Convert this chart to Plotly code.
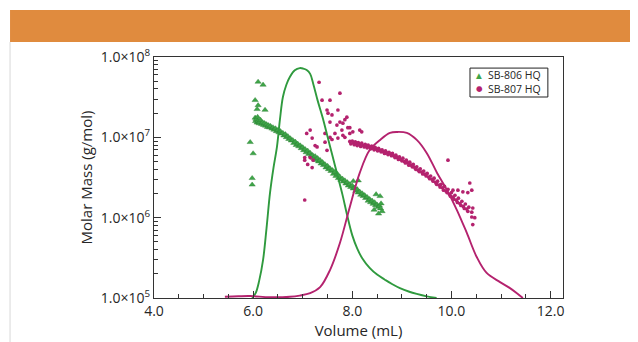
import plotly.graph_objects as go

# ---------------- data ----------------
# SB-806 HQ light-scattering molar mass points (volume mL, molar mass g/mol)
sb806_vol = [6.04, 6.05, 6.06, 6.08, 6.09, 6.10, 6.12, 6.13, 6.15, 6.17, 6.19, 6.21, 6.23, 6.25, 6.27,
             6.29, 6.31, 6.33, 6.35, 6.38, 6.40, 6.42, 6.45, 6.47, 6.50, 6.52, 6.55, 6.57, 6.60, 6.62,
             6.65, 6.67, 6.70, 6.72, 6.75, 6.77, 6.80, 6.82, 6.85, 6.87, 6.90, 6.92, 6.95, 6.97, 7.00,
             7.02, 7.05, 7.07, 7.10, 7.12, 7.15, 7.17, 7.20, 7.22, 7.25, 7.27, 7.30, 7.32, 7.35, 7.37,
             7.40, 7.42, 7.45, 7.47, 7.50, 7.52, 7.55, 7.57, 7.60, 7.62, 7.65, 7.67, 7.70, 7.72, 7.75,
             7.77, 7.80, 7.82, 7.85, 7.87, 7.90, 7.92, 7.95, 7.97, 8.00, 8.02, 8.05, 8.07, 8.10, 8.12,
             8.15, 8.17, 8.20, 8.22, 8.25, 8.27, 8.30, 8.32, 8.35, 8.37, 8.40, 8.42, 8.45, 8.47, 8.50,
             8.52, 8.55, 8.57,
             8.48, 8.56, 8.58, 8.60, 8.44, 8.53, 8.12, 8.02,
             6.10, 6.20, 6.04, 6.10, 6.08, 6.24, 5.94, 6.00, 5.98, 5.98]
sb806_mass = [17.5e6, 15.9e6, 16.8e6, 15.2e6, 17.9e6, 16.0e6, 14.9e6, 15.6e6, 16.4e6, 14.6e6, 15.3e6, 14.2e6,
              15.0e6, 13.9e6, 14.5e6, 13.4e6, 14.1e6, 13.2e6, 13.8e6, 12.8e6, 13.3e6, 12.4e6, 12.9e6, 11.9e6,
              12.3e6, 11.5e6, 11.9e6, 11.1e6, 11.3e6, 10.5e6, 10.9e6, 10.0e6, 10.3e6, 9.5e6, 9.7e6, 9.1e6,
              9.2e6, 8.5e6, 8.8e6, 8.0e6, 8.3e6, 7.7e6, 7.9e6, 7.3e6, 7.5e6, 6.9e6, 7.1e6, 6.5e6, 6.8e6,
              6.2e6, 6.4e6, 5.9e6, 6.0e6, 5.5e6, 5.8e6, 5.2e6, 5.5e6, 5.0e6, 5.2e6, 4.7e6, 4.9e6, 4.5e6,
              4.6e6, 4.2e6, 4.4e6, 4.0e6, 4.1e6, 3.8e6, 3.9e6, 3.5e6, 3.7e6, 3.3e6, 3.5e6, 3.1e6, 3.2e6,
              2.95e6, 3.05e6, 2.8e6, 2.9e6, 2.65e6, 2.75e6, 2.5e6, 2.6e6, 2.4e6, 2.5e6, 2.3e6, 2.35e6,
              2.15e6, 2.25e6, 2.05e6, 2.1e6, 1.92e6, 2.0e6, 1.85e6, 1.9e6, 1.75e6, 1.8e6, 1.62e6, 1.7e6,
              1.55e6, 1.62e6, 1.48e6, 1.55e6, 1.42e6, 1.45e6, 1.35e6, 1.40e6, 1.30e6,
              1.95e6, 1.85e6, 1.5e6, 1.2e6, 1.25e6, 1.12e6, 2.9e6, 2.85e6,
              49e6, 45e6, 29e6, 25e6, 22.4e6, 21.9e6, 8.7e6, 6.3e6, 3.1e6, 2.57e6]

# SB-807 HQ light-scattering molar mass points
sb807_vol = [7.95, 7.97, 8.00, 8.02, 8.04, 8.06, 8.08, 8.10, 8.12, 8.14, 8.17, 8.19, 8.21, 8.24, 8.26,
             8.28, 8.30, 8.32, 8.35, 8.37, 8.39, 8.42, 8.44, 8.46, 8.49, 8.51, 8.53, 8.56, 8.58, 8.60,
             8.63, 8.65, 8.67, 8.70, 8.72, 8.74, 8.77, 8.79, 8.81, 8.84, 8.86, 8.88, 8.91, 8.93, 8.95,
             8.98, 9.00, 9.02, 9.05, 9.07, 9.09, 9.12, 9.14, 9.16, 9.19, 9.21, 9.23, 9.26, 9.28, 9.30,
             9.33, 9.35, 9.37, 9.40, 9.42, 9.44, 9.47, 9.49, 9.51, 9.54, 9.56, 9.58, 9.61, 9.63, 9.65,
             9.68, 9.70, 9.72, 9.75, 9.77, 9.79, 9.82, 9.84, 9.86, 9.89, 9.91, 9.93, 9.96, 9.98, 10.00,
             10.03, 10.05, 10.07, 10.10, 10.12, 10.14, 10.17, 10.19, 10.21, 10.24, 10.26, 10.28, 10.31,
             10.33, 10.35,
             10.37, 10.41, 10.23, 10.33, 10.13, 10.03, 10.43, 10.41, 10.47, 10.43, 10.41, 9.93,
             7.33, 7.75, 7.39, 7.55, 7.51, 7.59, 7.55, 7.75, 7.81, 7.85, 7.69, 7.65, 7.79, 7.91, 7.95,
             8.15, 7.59, 7.71, 7.85, 7.89, 7.49, 7.15, 7.08, 7.19, 7.45, 7.55, 7.45, 7.29, 7.49, 7.04,
             7.21, 7.10, 7.19, 7.25, 7.15, 7.04, 7.04, 7.81, 8.19, 8.01, 7.95, 7.71]
sb807_mass = [8.9e6, 8.3e6, 9.0e6, 8.5e6, 8.1e6, 8.8e6, 8.4e6, 7.9e6, 8.6e6, 8.2e6, 7.7e6, 8.5e6, 8.0e6,
              7.6e6, 8.2e6, 7.8e6, 7.4e6, 8.0e6, 7.6e6, 7.2e6, 7.8e6, 7.3e6, 7.0e6, 7.5e6, 7.1e6, 6.8e6,
              7.3e6, 6.9e6, 6.6e6, 7.0e6, 6.6e6, 6.3e6, 6.8e6, 6.4e6, 6.1e6, 6.5e6, 6.2e6, 5.9e6, 6.3e6,
              5.9e6, 5.6e6, 6.0e6, 5.6e6, 5.3e6, 5.7e6, 5.3e6, 5.1e6, 5.5e6, 5.0e6, 4.8e6, 5.2e6, 4.8e6,
              4.5e6, 4.9e6, 4.5e6, 4.3e6, 4.6e6, 4.2e6, 4.0e6, 4.3e6, 3.9e6, 3.75e6, 4.05e6, 3.7e6, 3.5e6,
              3.8e6, 3.45e6, 3.3e6, 3.55e6, 3.2e6, 3.05e6, 3.3e6, 3.0e6, 2.85e6, 3.1e6, 2.75e6, 2.6e6,
              2.85e6, 2.55e6, 2.4e6, 2.6e6, 2.35e6, 2.2e6, 2.45e6, 2.15e6, 2.05e6, 2.25e6, 1.95e6, 1.85e6,
              2.05e6, 1.8e6, 1.7e6, 1.9e6, 1.65e6, 1.55e6, 1.75e6, 1.5e6, 1.42e6, 1.6e6, 1.38e6, 1.3e6,
              1.48e6, 1.28e6, 1.2e6, 1.35e6,
              2.7e6, 2.2e6, 2.1e6, 2.05e6, 2.2e6, 2.2e6, 1.32e6, 1.02e6, 1.0e6, 0.82e6, 1.17e6, 5.2e6,
              48.5e6, 35.5e6, 29e6, 29e6, 20e6, 19e6, 15.5e6, 15.5e6, 15e6, 16.6e6, 14.2e6, 11.2e6,
              12.3e6, 13.2e6, 11.2e6, 12.3e6, 9.4e6, 9.8e6, 10e6, 17.8e6, 21.9e6, 12.3e6, 11.2e6, 9.8e6,
              11.2e6, 10e6, 8.7e6, 7.6e6, 6.9e6, 5.6e6, 5.2e6, 4.6e6, 4.2e6, 7.9e6, 5.6e6, 5.2e6, 1.66e6,
              10.6e6, 11.7e6, 11.7e6, 13.2e6, 21.9e6]

# concentration-detector traces (relative response, 0..1 of plot height)
rid806_vol = [5.98, 6.05, 6.12, 6.20, 6.27, 6.34, 6.41, 6.48, 6.54, 6.60, 6.67, 6.74, 6.84, 6.94, 7.01,
              7.08, 7.15, 7.21, 7.30, 7.40, 7.50, 7.60, 7.70, 7.80, 7.90, 8.00, 8.10, 8.20, 8.35, 8.50,
              8.65, 8.80, 8.96, 9.15, 9.30, 9.50, 9.70]
rid806_resp = [0.0, 0.02, 0.07, 0.158, 0.29, 0.436, 0.54, 0.627, 0.74, 0.834, 0.885, 0.917, 0.945, 0.954,
               0.952, 0.946, 0.93, 0.89, 0.82, 0.75, 0.67, 0.59, 0.51, 0.43, 0.34, 0.26, 0.205, 0.165,
               0.125, 0.097, 0.077, 0.058, 0.041, 0.026, 0.017, 0.007, 0.0]
rid807_vol = [5.43, 5.70, 5.94, 6.34, 6.74, 6.94, 7.15, 7.35, 7.55, 7.75, 7.95, 8.15, 8.35, 8.56, 8.76,
              8.90, 9.10, 9.30, 9.50, 9.71, 9.91, 10.11, 10.31, 10.51, 10.71, 10.98, 11.18, 11.32, 11.44]
rid807_resp = [0.005, 0.007, 0.008, 0.003, 0.005, 0.01, 0.02, 0.045, 0.116, 0.228, 0.378, 0.519, 0.614,
               0.656, 0.685, 0.689, 0.685, 0.656, 0.602, 0.519, 0.448, 0.365, 0.27, 0.17, 0.104, 0.066,
               0.041, 0.02, 0.0]

series_names = ["SB-806 HQ", "SB-807 HQ"]

y_tickvals = [1e5, 1e6, 1e7, 1e8]
y_ticktext = ["1.0×10<sup>5</sup>", "1.0×10<sup>6</sup>", "1.0×10<sup>7</sup>", "1.0×10<sup>8</sup>"]
x_tickvals = [4.0, 6.0, 8.0, 10.0, 12.0]
x_ticktext = ["4.0", "6.0", "8.0", "10.0", "12.0"]

GREEN = "#2f9a3e"
GREEN_M = "#3ea548"
MAGENTA = "#b4226e"
FONT = "Open Sans"
INK = "#262626"

fig = go.Figure()

fig.add_trace(go.Scatter(x=rid806_vol, y=rid806_resp, yaxis="y2", mode="lines",
                         line=dict(color=GREEN, width=1.9, shape="spline"), showlegend=False,
                         hoverinfo="skip"))
fig.add_trace(go.Scatter(x=rid807_vol, y=rid807_resp, yaxis="y2", mode="lines",
                         line=dict(color=MAGENTA, width=1.9, shape="spline"), showlegend=False,
                         hoverinfo="skip"))
fig.add_trace(go.Scatter(x=sb806_vol, y=sb806_mass, mode="markers", name=series_names[0],
                         showlegend=False,
                         marker=dict(symbol="triangle-up", size=5.5, color=GREEN_M,
                                     line=dict(width=0.4, color="#2a7d33"))))
fig.add_trace(go.Scatter(x=sb807_vol, y=sb807_mass, mode="markers", name=series_names[1],
                         showlegend=False,
                         marker=dict(symbol="circle", size=3.7, color=MAGENTA,
                                     line=dict(width=0))))

minor_y = [m * 10 ** e for e in range(5, 8) for m in range(2, 10)]

# legend box (drawn manually to match the compact original)
LX0, LX1, LY0, LY1 = 0.7726, 0.963, 0.834, 0.954
legend_annotations = [
    dict(xref="paper", yref="paper", x=0.795, y=0.925, text="▲", showarrow=False,
         font=dict(size=7.5, color=GREEN_M, family="DejaVu Sans"), xanchor="center", yanchor="middle"),
    dict(xref="paper", yref="paper", x=0.8146, y=0.925, text=series_names[0], showarrow=False,
         font=dict(size=10.5, color=INK, family=FONT), xanchor="left", yanchor="middle",
         borderpad=0),
    dict(xref="paper", yref="paper", x=0.795, y=0.868, text="●", showarrow=False,
         font=dict(size=7.5, color=MAGENTA, family="DejaVu Sans"), xanchor="center", yanchor="middle"),
    dict(xref="paper", yref="paper", x=0.8146, y=0.868, text=series_names[1], showarrow=False,
         font=dict(size=10.5, color=INK, family=FONT), xanchor="left", yanchor="middle",
         borderpad=0),
]

fig.update_layout(
    width=638, height=342,
    margin=dict(l=146, r=83, t=49, b=52),
    paper_bgcolor="white", plot_bgcolor="white",
    font=dict(family=FONT, size=14, color=INK),
    showlegend=False,
    xaxis=dict(range=[4.0, 12.25], tickmode="array", tickvals=x_tickvals, ticktext=x_ticktext,
               ticks="inside", ticklen=7, tickwidth=1.1, tickcolor="#333",
               showline=True, linecolor="#333", linewidth=1.3, mirror=True,
               showgrid=False, zeroline=False,
               minor=dict(ticks="inside", ticklen=4, tickwidth=1, tickcolor="#333", dtick=0.5,
                          tick0=4.0, showgrid=False),
               title=dict(text="Volume (mL)", font=dict(size=15, family=FONT, color=INK),
                          standoff=2),
               tickfont=dict(size=14, family=FONT, color=INK)),
    yaxis=dict(type="log", range=[5, 8], tickmode="array", tickvals=y_tickvals, ticktext=y_ticktext,
               ticks="inside", ticklen=7, tickwidth=1.1, tickcolor="#333",
               showline=True, linecolor="#333", linewidth=1.3, mirror=True,
               showgrid=False, zeroline=False,
               minor=dict(ticks="inside", ticklen=3.5, tickwidth=1, tickcolor="#333",
                          tickmode="array", tickvals=minor_y, showgrid=False),
               title=dict(text="Molar Mass (g/mol)", font=dict(size=15, family=FONT, color=INK),
                          standoff=4),
               tickfont=dict(size=14, family=FONT, color=INK)),
    yaxis2=dict(overlaying="y", range=[0, 1], visible=False),
    annotations=legend_annotations,
    shapes=[
        dict(type="rect", xref="paper", yref="paper", x0=-0.352, x1=1.25, y0=1.062, y1=1.195,
             fillcolor="#e08b3e", line=dict(width=0), layer="below"),
        dict(type="line", xref="paper", yref="paper", x0=-0.352, x1=-0.352, y0=-0.3, y1=1.062,
             line=dict(color="#d8d8d8", width=1)),
        dict(type="rect", xref="paper", yref="paper", x0=LX0, x1=LX1, y0=LY0, y1=LY1,
             fillcolor="white", line=dict(color="#222", width=1)),
    ],
)

fig.write_html("out.html")
